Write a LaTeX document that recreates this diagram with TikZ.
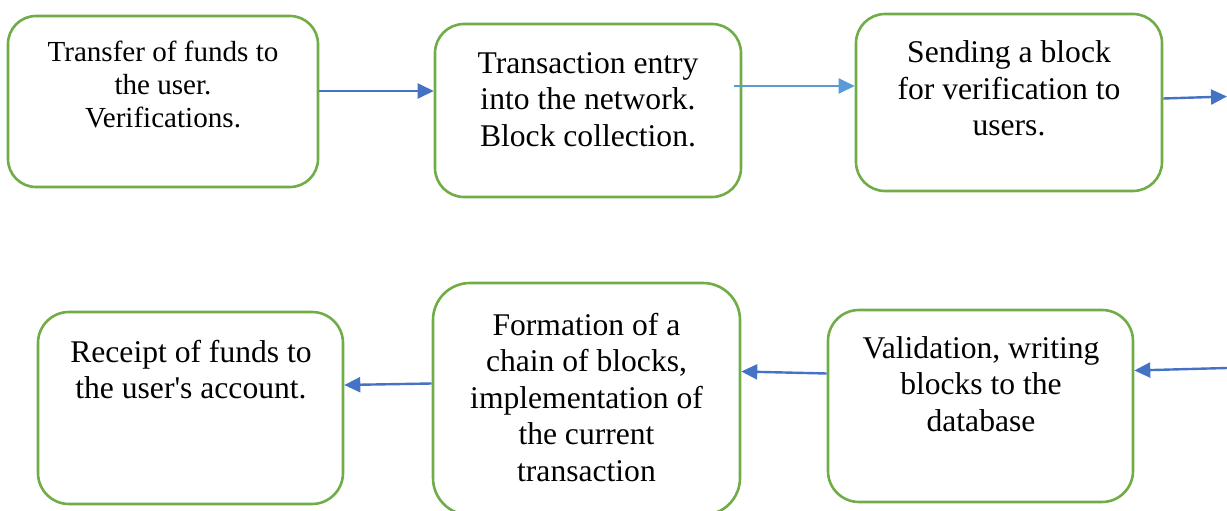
\documentclass[tikz,border=0pt]{standalone}
\usepackage{fontspec}
\newfontfamily\boxfont{LiberationSerif}[Extension=.ttf, UprightFont=*-Regular, BoldFont=*-Bold]
\usetikzlibrary{arrows.meta}
\definecolor{boxgreen}{HTML}{70AD47}
\definecolor{arrblue}{HTML}{4472C4}
\definecolor{arrlight}{HTML}{5B9BD5}
\tikzset{
  stagebox/.style={draw=boxgreen, line width=2.6pt, fill=white},
  stagetext/.style={anchor=base, inner sep=0pt, font=\boxfont\fontsize{31.6}{36.5}\selectfont},
  smalltext/.style={anchor=base, inner sep=0pt, font=\boxfont\fontsize{29.1}{33}\selectfont},
  flow/.style={draw=arrblue, line width=2.4pt, -{Triangle[length=16pt,width=15pt]}},
  flowlight/.style={draw=arrlight, line width=2.4pt, -{Triangle[length=16pt,width=15pt]}}
}
\newcommand{\boxlines}[1]{\setlength{\tabcolsep}{0pt}\begin{tabular}[t]{c}#1\end{tabular}}
\begin{document}
\begin{tikzpicture}[x=1pt,y=-1pt]
\useasboundingbox (0,0) rectangle (1227,511);
% boxes
\node (b1) [stagebox, rounded corners=28pt, inner sep=0pt, minimum width=310pt, minimum height=171pt] at (163,101.5) {};
\node (b2) [stagebox, rounded corners=29pt, inner sep=0pt, minimum width=306pt, minimum height=173pt] at (588,110.5) {};
\node (b3) [stagebox, rounded corners=29pt, inner sep=0pt, minimum width=306pt, minimum height=177pt] at (1009,102.5) {};
\node (b4) [stagebox, rounded corners=31pt, inner sep=0pt, minimum width=305pt, minimum height=192pt] at (190.5,408) {};
\node (b5) [stagebox, rounded corners=37pt, inner sep=0pt, minimum width=307pt, minimum height=232pt] at (586.5,399) {};
\node (b6) [stagebox, rounded corners=31pt, inner sep=0pt, minimum width=305pt, minimum height=192pt] at (980.5,406) {};
% texts
\node (t1) [smalltext] at (163,61.7) {\boxlines{Transfer of funds to\\the user.\\Verifications.}};
\node (t2) [stagetext] at (588,73.3) {\boxlines{Transaction entry\\into the network.\\Block collection.}};
\node (t3) [stagetext] at (1009,63) {\boxlines{Sending a block\\for verification to\\users.}};
\node (t4) [stagetext] at (191,362) {\boxlines{Receipt of funds to\\the user's account.}};
\node (t5) [stagetext] at (586.5,335) {\boxlines{Formation of a\\chain of blocks,\\implementation of\\the current\\transaction}};
\node (t6) [stagetext] at (981,358) {\boxlines{Validation, writing\\blocks to the\\database}};
% connectors
\coordinate (a3e) at (1227,96.5);
\coordinate (a4s) at (1227,368);
\draw[flow] (b1.east |- 0,91) -- (b2.west |- 0,91);
\draw[flowlight] (734,86) coordinate (a2s) -- (b3.west |- 0,86);
\draw[flow] (b3.east |- 0,98.5) -- (a3e);
\draw[flow] (a4s) -- (b6.east |- 0,370.5);
\draw[flow] (b6.west |- 0,373.5) -- (b5.east |- 0,371.5);
\draw[flow] (b5.west |- 0,383.5) -- (b4.east |- 0,385);
\end{tikzpicture}
\end{document}
